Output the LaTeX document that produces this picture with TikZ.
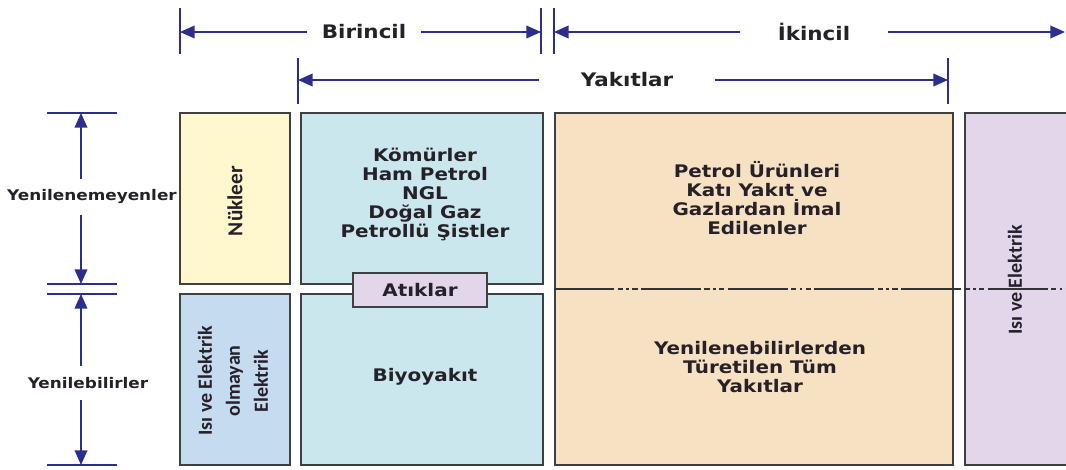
\documentclass[tikz,border=0pt]{standalone}
\usepackage{fontspec}
\setmainfont{DejaVu Sans}[FakeStretch=1.15]
\newfontfamily\sidefont{Carlito}
\usetikzlibrary{arrows.meta, positioning, calc}
\definecolor{dimblue}{RGB}{44,46,140}
\definecolor{nucyellow}{RGB}{255,248,206}
\definecolor{elecblue}{RGB}{197,220,240}
\definecolor{fuelcyan}{RGB}{201,231,236}
\definecolor{derivedtan}{RGB}{246,226,195}
\definecolor{heatlilac}{RGB}{225,214,234}
\definecolor{labeltext}{RGB}{38,32,40}
\newcommand{\pxu}{0.75pt}

\begin{document}
\begin{tikzpicture}[x=\pxu, y=-\pxu,
  cell/.style={draw=black!75, line width=1pt, inner sep=0pt},
  dimarrow/.style={draw=dimblue, line width=1.2pt, -{Triangle[length=11pt, width=9.5pt]}},
  dimtick/.style={draw=dimblue, line width=1.2pt},
  lbl/.style={font=\bfseries\fontsize{13}{14.25}\selectfont, text=labeltext, align=center},
  toplbl/.style={lbl, font=\bfseries\fontsize{14}{16}\selectfont},
  leftlbl/.style={lbl, font=\bfseries\fontsize{11}{13}\selectfont},
  sidelbl/.style={font=\sidefont\bfseries\fontsize{15}{21}\selectfont, text=labeltext, align=center, rotate=90}
]
\clip (0,0) rectangle (1066,469);

% primary / secondary sources
\node[toplbl, inner xsep=11pt] (prim) at (364,32) {Birincil};
\coordinate (primL) at (180,32);
\coordinate (primR) at (541,32);
\draw[dimtick] (primL) ++(0,-24) -- ++(0,46);
\draw[dimtick] (primR) ++(0,-24) -- ++(0,46);
\draw[dimarrow] (prim) -- (primL);
\draw[dimarrow] (prim) -- (primR);

\node[toplbl, inner xsep=28pt] (sec) at (814,32) {İkincil};
\coordinate (secL) at (554,32);
\coordinate (secR) at (1065,32);
\draw[dimtick] (secL) ++(0,-24) -- ++(0,46);
\draw[dimarrow] (sec) -- (secL);
\draw[dimarrow] (sec) -- (secR);

\node[toplbl, inner xsep=31pt] (fuels) at (627,80) {Yakıtlar};
\coordinate (fuelsL) at (298,80);
\coordinate (fuelsR) at (948,80);
\draw[dimtick] (fuelsL) ++(0,-22) -- ++(0,46);
\draw[dimtick] (fuelsR) ++(0,-22) -- ++(0,46);
\draw[dimarrow] (fuels) -- (fuelsL);
\draw[dimarrow] (fuels) -- (fuelsR);

% renewable / non-renewable
\node[leftlbl, inner ysep=8pt] (nonren) at (92,197) {Yenilenemeyenler};
\coordinate (nonrenT) at (81,113);
\coordinate (nonrenB) at (81,284);
\draw[dimtick] (nonrenT) ++(-34,0) -- ++(70,0);
\draw[dimtick] (nonrenB) ++(-34,0) -- ++(70,0);
\draw[dimarrow] (nonren.north -| nonrenT) -- (nonrenT);
\draw[dimarrow] (nonren.south -| nonrenB) -- (nonrenB);

\node[leftlbl, inner ysep=8pt] (ren) at (88,383) {Yenilebilirler};
\coordinate (renT) at (81,294);
\coordinate (renB) at (81,465);
\draw[dimtick] (renT) ++(-34,0) -- ++(70,0);
\draw[dimtick] (renB) ++(-34,0) -- ++(70,0);
\draw[dimarrow] (ren.north -| renT) -- (renT);
\draw[dimarrow] (ren.south -| renB) -- (renB);

% boxes
\node[cell, fill=nucyellow, minimum width=110*\pxu, minimum height=171*\pxu] (nuk) at (235,198.5) {};
\node[sidelbl, font=\sidefont\bfseries\fontsize{16}{18}\selectfont] (nuktext) at (235,201) {Nükleer};
\node[cell, fill=elecblue, minimum width=110*\pxu, minimum height=171*\pxu] (nonheat) at (235,379.5) {};
\node[sidelbl] (nonheattext) at (233,381) {Isı ve Elektrik\\olmayan\\Elektrik};

\node[cell, fill=fuelcyan, minimum width=242*\pxu, minimum height=171*\pxu] (fossil) at (422,198.5) {};
\node[lbl] (fossiltext) at (425,194) {Kömürler\\Ham Petrol\\NGL\\Doğal Gaz\\Petrollü Şistler};
\node[cell, fill=fuelcyan, minimum width=242*\pxu, minimum height=171*\pxu] (bio) at (422,379.5) {};
\node[lbl] (biotext) at (425,377) {Biyoyakıt};
\node[cell, lbl, fill=heatlilac, minimum width=134*\pxu, minimum height=34*\pxu] (waste) at (420,290) {Atıklar};

\node[cell, fill=derivedtan, minimum width=398*\pxu, minimum height=352*\pxu] (derived) at (754,289) {};
\node[lbl] (derivedtop) at (757,198) {Petrol Ürünleri\\Katı Yakıt ve\\Gazlardan İmal\\Edilenler};
\node[lbl] (derivedbot) at (760,367) {Yenilenebilirlerden\\Türetilen Tüm\\Yakıtlar};

\node[cell, fill=heatlilac, minimum width=110*\pxu, minimum height=352*\pxu] (heat) at (1020,289) {};
\node[sidelbl] (heattext) at (1015,280) {Isı ve Elektrik};

% split line
\coordinate (split) at (1066,289);
\draw[black!80, line width=1pt, dash pattern=on 45pt off 2.5pt on 4pt off 2.5pt on 2pt off 2.5pt on 4pt off 2.5pt] (derived.west) -- (split);
\end{tikzpicture}
\end{document}
